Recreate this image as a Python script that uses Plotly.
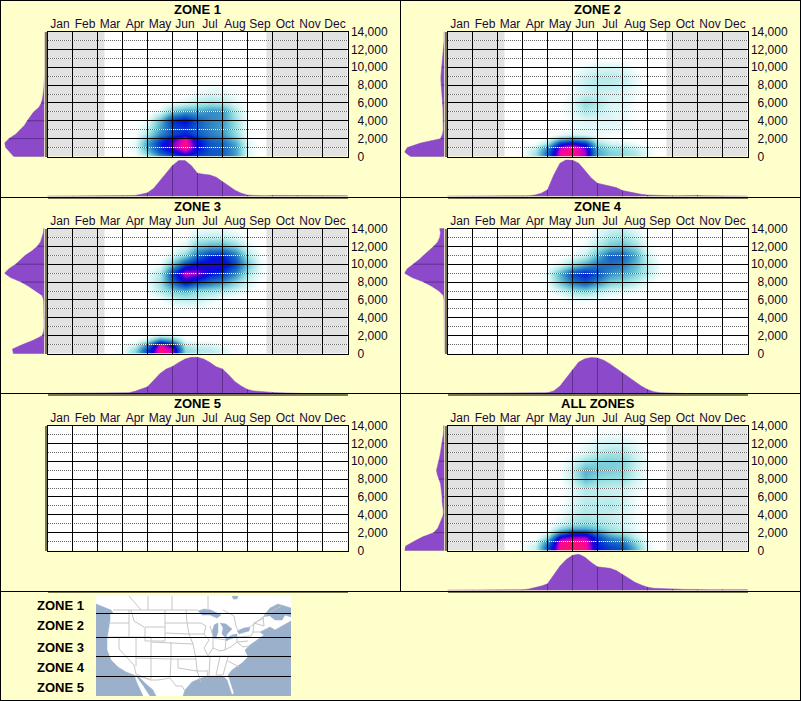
"""Seasonal altitude density panels by zone, with the zone key map."""

import plotly.graph_objects as go

WIDTH = 801
HEIGHT = 701

MONTHS = ['Jan', 'Feb', 'Mar', 'Apr', 'May', 'Jun', 'Jul', 'Aug', 'Sep', 'Oct', 'Nov', 'Dec']
MONTH_CENTERS = [m + 0.5 for m in range(12)]
MONTH_EDGES = list(range(13))
ALT_MAJOR = [0, 2000, 4000, 6000, 8000, 10000, 12000, 14000]
ALT_MINOR = [1000, 3000, 5000, 7000, 9000, 11000, 13000]
ALT_LABELS = ['\u00a0\u00a00', '\u00a0\u00a02,000', '\u00a0\u00a04,000', '\u00a0\u00a06,000',
              '\u00a0\u00a08,000', '10,000', '12,000', '14,000']

# Part of the year that is shaded grey, in months from 1 Jan
SEASON_START = 2.28
SEASON_END = 8.76

HEAT_MONTHS = [3, 3.5, 4, 4.5, 5, 5.5, 6, 6.5, 7, 7.5, 8, 8.5, 9]
HEAT_ALT = [0, 500, 1000, 1500, 2000, 2500, 3000, 4000, 5000, 6000, 7000,
            8000, 9000, 10000, 11000, 12000, 13000, 14000]
BLANK = [0] * 13

HEAT_ZONE1 = [
    [0, 2, 14, 40, 56, 64, 60, 56, 54, 38, 8, 0, 0],
    [0, 4, 26, 55, 68, 85, 66, 56, 54, 38, 8, 0, 0],
    [0, 6, 36, 64, 82, 100, 72, 56, 54, 38, 7, 0, 0],
    [0, 6, 38, 66, 84, 100, 74, 56, 52, 36, 7, 0, 0],
    [0, 4, 30, 58, 76, 96, 68, 52, 46, 28, 5, 0, 0],
    [0, 2, 18, 44, 60, 68, 56, 46, 40, 22, 3, 0, 0],
    [0, 1, 12, 38, 58, 62, 54, 44, 38, 20, 2, 0, 0],
    [0, 0, 4, 32, 65, 72, 56, 44, 40, 20, 3, 0, 0],
    [0, 0, 0, 6, 28, 38, 36, 42, 40, 16, 1, 0, 0],
    [0, 0, 0, 0, 3, 8, 14, 18, 16, 7, 0, 0, 0],
    [0, 0, 0, 0, 0, 1, 6, 10, 8, 3, 0, 0, 0],
    [0, 0, 0, 0, 0, 0, 1, 3, 3, 1, 0, 0, 0],
    BLANK, BLANK, BLANK, BLANK, BLANK, BLANK,
]
HEAT_ZONE2 = [
    [2, 18, 50, 95, 100, 85, 34, 25, 22, 16, 6, 0, 0],
    [2, 18, 52, 96, 100, 88, 36, 25, 22, 16, 6, 0, 0],
    [1, 12, 42, 90, 100, 82, 32, 20, 18, 12, 4, 0, 0],
    [0, 3, 18, 66, 78, 66, 20, 10, 8, 4, 0, 0, 0],
    [0, 0, 4, 28, 38, 30, 8, 3, 2, 0, 0, 0, 0],
    [0, 0, 0, 5, 9, 8, 4, 3, 2, 0, 0, 0, 0],
    [0, 0, 0, 0, 4, 6, 5, 5, 4, 1, 0, 0, 0],
    [0, 0, 0, 0, 4, 8, 8, 8, 6, 2, 0, 0, 0],
    [0, 0, 0, 1, 7, 16, 12, 8, 6, 2, 0, 0, 0],
    [0, 0, 0, 1, 8, 22, 16, 9, 8, 3, 0, 0, 0],
    [0, 0, 0, 0, 5, 12, 12, 10, 9, 4, 0, 0, 0],
    [0, 0, 0, 0, 5, 12, 14, 13, 11, 5, 0, 0, 0],
    [0, 0, 0, 0, 4, 12, 15, 15, 13, 6, 0, 0, 0],
    [0, 0, 0, 0, 1, 5, 8, 9, 7, 2, 0, 0, 0],
    BLANK, BLANK, BLANK, BLANK,
]
HEAT_ZONE3 = [
    [3, 25, 60, 100, 90, 22, 16, 14, 10, 0, 0, 0, 0],
    [3, 22, 60, 100, 90, 22, 16, 14, 9, 0, 0, 0, 0],
    [1, 10, 42, 95, 72, 14, 10, 8, 4, 0, 0, 0, 0],
    [0, 2, 14, 50, 36, 5, 3, 2, 1, 0, 0, 0, 0],
    [0, 0, 1, 10, 8, 0, 0, 0, 0, 0, 0, 0, 0],
    BLANK, BLANK, BLANK,
    [0, 0, 0, 0, 1, 3, 3, 1, 0, 0, 0, 0, 0],
    [0, 0, 0, 2, 10, 14, 12, 6, 2, 0, 0, 0, 0],
    [0, 0, 2, 14, 24, 30, 20, 18, 14, 8, 3, 0, 0],
    [0, 0, 5, 20, 50, 72, 58, 48, 40, 24, 10, 2, 0],
    [0, 0, 3, 16, 62, 92, 88, 70, 64, 44, 18, 4, 0],
    [0, 0, 0, 4, 30, 62, 74, 76, 76, 60, 30, 6, 0],
    [0, 0, 0, 0, 8, 24, 50, 66, 68, 50, 18, 3, 0],
    [0, 0, 0, 0, 2, 8, 28, 35, 36, 25, 8, 0, 0],
    [0, 0, 0, 0, 0, 2, 12, 14, 14, 8, 1, 0, 0],
    [0, 0, 0, 0, 0, 0, 4, 5, 5, 2, 0, 0, 0],
]
HEAT_ZONE4 = [
    BLANK, BLANK, BLANK, BLANK, BLANK, BLANK, BLANK, BLANK, BLANK,
    [0, 0, 0, 0, 3, 5, 3, 0, 0, 0, 0, 0, 0],
    [0, 0, 1, 8, 18, 22, 14, 8, 6, 3, 0, 0, 0],
    [0, 0, 4, 28, 46, 56, 42, 26, 22, 14, 5, 0, 0],
    [0, 0, 6, 34, 60, 68, 58, 42, 36, 26, 14, 2, 0],
    [0, 0, 0, 8, 22, 36, 48, 50, 46, 32, 14, 3, 0],
    [0, 0, 0, 0, 4, 12, 32, 54, 54, 36, 10, 0, 0],
    [0, 0, 0, 0, 1, 5, 16, 28, 32, 22, 4, 0, 0],
    [0, 0, 0, 0, 0, 2, 8, 18, 20, 12, 1, 0, 0],
    [0, 0, 0, 0, 0, 0, 6, 10, 12, 6, 0, 0, 0],
]
HEAT_ALL = [
    [2, 12, 55, 98, 100, 98, 68, 62, 60, 34, 7, 0, 0],
    [2, 12, 55, 98, 100, 98, 68, 60, 56, 30, 6, 0, 0],
    [1, 6, 42, 96, 100, 96, 66, 52, 46, 22, 4, 0, 0],
    [0, 1, 22, 80, 88, 88, 62, 42, 34, 14, 2, 0, 0],
    [0, 0, 6, 45, 65, 65, 45, 25, 18, 8, 1, 0, 0],
    [0, 0, 1, 22, 35, 35, 28, 18, 13, 5, 0, 0, 0],
    [0, 0, 0, 8, 18, 22, 18, 14, 10, 4, 0, 0, 0],
    [0, 0, 0, 3, 12, 16, 14, 12, 10, 4, 0, 0, 0],
    [0, 0, 0, 1, 8, 15, 14, 16, 12, 4, 0, 0, 0],
    [0, 0, 0, 1, 7, 14, 13, 13, 11, 4, 0, 0, 0],
    [0, 0, 0, 1, 7, 16, 14, 12, 12, 6, 1, 0, 0],
    [0, 0, 0, 2, 12, 30, 22, 20, 20, 10, 2, 0, 0],
    [0, 0, 0, 2, 14, 34, 28, 26, 24, 12, 3, 0, 0],
    [0, 0, 0, 1, 8, 20, 24, 26, 24, 12, 3, 0, 0],
    [0, 0, 0, 0, 2, 8, 14, 18, 18, 10, 2, 0, 0],
    [0, 0, 0, 0, 1, 4, 8, 10, 10, 5, 1, 0, 0],
    [0, 0, 0, 0, 0, 1, 3, 4, 4, 2, 0, 0, 0],
    [0, 0, 0, 0, 0, 0, 1, 1, 1, 0, 0, 0, 0],
]

# Marginal curves: quarter-month steps along the bottom, 500 ft steps up the side
MONTH_STEPS = [q / 4 for q in range(49)]
ALT_STEPS = [s * 500 for s in range(29)]

MONTHLY_ZONE1 = [1, 1, 1, 1, 1, 1, 1, 1, 1, 1, 1, 1,
                 1, 2, 3, 6, 10, 22, 42, 64, 84, 97, 97, 84, 63, 60, 58, 52,
                 40, 28, 17, 9, 4, 3, 2, 2, 3, 3, 3, 3, 2, 2, 2, 2, 1, 1, 2, 2, 2]
MONTHLY_ZONE2 = [1, 1, 1, 1, 1, 1, 1, 1, 1, 1, 1, 1,
                 1, 2, 4, 9, 18, 58, 90, 99, 98, 90, 70, 50, 36, 32, 28, 24,
                 16, 12, 9, 6, 4, 3, 2, 2, 2, 2, 3, 3, 3, 2, 2, 1, 1, 1, 1, 1, 1]
MONTHLY_ZONE3 = [0, 0, 0, 0, 0, 0, 0, 0, 0, 0, 0, 0,
                 0, 2, 6, 11, 18, 36, 54, 66, 73, 84, 93, 98, 98, 93, 84, 72,
                 66, 50, 32, 20, 11, 7, 5, 4, 3, 2, 1, 0, 0, 0, 0, 0, 0, 0, 0, 0, 0]
MONTHLY_ZONE4 = [0, 0, 0, 0, 0, 0, 0, 0, 0, 0, 0, 0,
                 0, 0, 0, 0, 2, 7, 20, 42, 64, 85, 94, 97, 96, 90, 80, 68,
                 55, 44, 32, 20, 11, 5, 2, 1, 0, 0, 0, 0, 0, 0, 0, 0, 0, 0, 0, 0, 0]
MONTHLY_ALL = [1, 1, 1, 1, 1, 1, 1, 1, 1, 1, 1, 1,
               2, 4, 7, 12, 18, 42, 66, 84, 95, 98, 90, 76, 64, 62, 60, 54,
               43, 32, 22, 15, 9, 6, 5, 4, 4, 3, 3, 3, 2, 2, 2, 2, 2, 2, 2, 2, 2]

ALTITUDE_ZONE1 = [77, 86, 97, 100, 89, 72, 60, 50, 43, 35, 27, 14, 8, 5, 3, 2, 1,
                  0, 0, 0, 0, 0, 0, 0, 0, 0, 0, 0, 0]
ALTITUDE_ZONE2 = [85, 100, 93, 60, 10, 5, 3, 3, 3, 3, 3, 4, 5, 6, 7, 8, 8, 9, 9, 8,
                  7, 5, 4, 3, 2, 1, 1, 1, 1]
ALTITUDE_ZONE3 = [78, 80, 55, 27, 6, 2, 1, 1, 1, 1, 1, 2, 2, 6, 22, 39, 58, 85, 100,
                  89, 72, 60, 48, 31, 18, 10, 6, 3, 2]
ALTITUDE_ZONE4 = [0, 0, 0, 0, 0, 0, 0, 0, 0, 0, 0, 0, 1, 3, 14, 31, 52, 81, 100, 93,
                  77, 64, 52, 39, 27, 17, 12, 10, 12]
ALTITUDE_ALL = [100, 97, 77, 56, 27, 17, 12, 8, 3, 3, 5, 6, 6, 7, 8, 10, 14, 18, 20,
                17, 14, 12, 10, 8, 6, 4, 3, 2, 2]

PANEL_TITLES = ['ZONE 1', 'ZONE 2', 'ZONE 3', 'ZONE 4', 'ZONE 5', 'ALL ZONES']
PANEL_HEAT = [HEAT_ZONE1, HEAT_ZONE2, HEAT_ZONE3, HEAT_ZONE4, None, HEAT_ALL]
PANEL_MONTHLY = [MONTHLY_ZONE1, MONTHLY_ZONE2, MONTHLY_ZONE3, MONTHLY_ZONE4, None, MONTHLY_ALL]
PANEL_ALTITUDE = [ALTITUDE_ZONE1, ALTITUDE_ZONE2, ALTITUDE_ZONE3, ALTITUDE_ZONE4, None, ALTITUDE_ALL]
PANEL_SHADED = [True, True, True, False, False, True]

# Key map, in map pixels (195 wide, 100 high)
MAP_WATER = [
    [(0, 8), (8, 11), (15, 14), (17, 17), (14, 17), (14, 24), (13, 32), (11, 43), (11, 54), (15, 64),
     (22, 71), (30, 76), (38, 79), (41, 87), (47, 100), (0, 100)],
    [(40, 80), (43, 81), (50, 88), (57, 94), (60, 100), (54, 100), (48, 91)],
    [(87, 100), (89, 94), (96, 86), (105, 82), (113, 80), (122, 80), (127, 80), (131, 84), (134, 92),
     (136, 99), (138, 97), (135, 87), (132, 79), (136, 74), (146, 67), (152, 61), (149, 54), (154, 49),
     (161, 44), (164, 41), (168, 39), (164, 36), (174, 31), (179, 34), (191, 27), (195, 25),
     (195, 100)],
    [(167, 21), (174, 12), (182, 8), (194, 11), (195, 12), (195, 21), (189, 19), (186, 24), (179, 24),
     (174, 20)],
    [(136, 0), (142, 0), (141, 3), (137, 3)],
    [(102, 15), (108, 13), (115, 14), (125, 19), (121, 22), (114, 19), (106, 19)],
    [(118, 29), (122, 27), (122, 36), (120, 42), (117, 41), (116, 35)],
    [(124, 27), (130, 28), (136, 33), (131, 38), (130, 42), (126, 38), (127, 32)],
    [(129, 43), (136, 39), (141, 38), (141, 41), (134, 43), (130, 45)],
    [(141, 35), (148, 32), (154, 31), (153, 35), (146, 37), (143, 38)],
]
MAP_BORDERS = [
    [(17, 14), (102, 14)],
    [(33, 0), (45, 14)],
    [(52, 0), (52, 14)],
    [(76, 0), (76, 14)],
    [(112, 0), (112, 14)],
    [(13, 27), (33, 27)],
    [(33, 14), (33, 41)],
    [(35, 14), (38, 25), (48, 31)],
    [(49, 31), (69, 31), (69, 45), (49, 45), (49, 31)],
    [(69, 14), (69, 31)],
    [(69, 27), (91, 27)],
    [(90, 14), (91, 27), (93, 38), (97, 48), (100, 63), (101, 75)],
    [(69, 37), (93, 38)],
    [(11, 41), (55, 41), (55, 45)],
    [(40, 41), (40, 70)],
    [(23, 41), (23, 53), (38, 69), (40, 78), (55, 84)],
    [(55, 46), (55, 83)],
    [(40, 62), (75, 63)],
    [(55, 46), (97, 48)],
    [(75, 46), (75, 63), (74, 81)],
    [(75, 63), (100, 63)],
    [(82, 63), (82, 72), (101, 75), (105, 86)],
    [(101, 75), (112, 75), (111, 82)],
    [(38, 79), (55, 84), (62, 84), (74, 82), (80, 90), (86, 90), (89, 95)],
    [(93, 38), (108, 38), (113, 44), (108, 52), (112, 60)],
    [(91, 27), (105, 27), (110, 30), (108, 38)],
    [(100, 60), (116, 60), (138, 60)],
    [(114, 30), (117, 40), (117, 52), (112, 60)],
    [(117, 42), (130, 44), (129, 54)],
    [(117, 52), (124, 55), (129, 54), (136, 50), (141, 46), (152, 45)],
    [(141, 41), (141, 46), (147, 51), (153, 50)],
    [(141, 41), (155, 40), (157, 36), (164, 36)],
    [(138, 60), (150, 60)],
    [(124, 61), (120, 79)],
    [(114, 61), (113, 80)],
    [(132, 61), (127, 79), (120, 79)],
    [(132, 65), (143, 71)],
    [(157, 36), (158, 27), (168, 22)],
    [(158, 27), (168, 30), (167, 21)],
    [(127, 14), (138, 20), (140, 30), (142, 34)],
    [(154, 31), (167, 21), (185, 10)],
]
ZONE_BREAKS = [17.5, 41.5, 60.5, 80.5]
KEY_LABELS = ['ZONE 1', 'ZONE 2', 'ZONE 3', 'ZONE 4', 'ZONE 5']
KEY_LABEL_Y = [605, 625, 647, 667, 687]

PAPER = '#ffffcc'
PURPLE = '#8c4acb'
PURPLE_DARK = '#5e2f8c'
BASELINE = '#77774f'
WATER = '#9ab0cb'
SHADE = '#e2e2e2'
FONT = 'Liberation Sans, Arial, sans-serif'

HEAT_SCALE = [
    [0.00, 'rgba(255,255,255,0)'],
    [0.05, 'rgba(225,248,248,0.75)'],
    [0.12, '#c8f0f0'],
    [0.22, '#90dce0'],
    [0.33, '#58b4d0'],
    [0.45, '#2a80c4'],
    [0.58, '#0a50c8'],
    [0.70, '#0010e0'],
    [0.80, '#3000d0'],
    [0.87, '#a000d0'],
    [0.94, '#f000b0'],
    [1.00, '#ff1070'],
]


def px_x(x):
    return x / WIDTH


def px_y(y):
    return 1 - y / HEIGHT


def axis_keys(n):
    suffix = '' if n == 1 else str(n)
    return f'xaxis{suffix}', f'yaxis{suffix}', f'x{suffix}', f'y{suffix}'


fig = go.Figure()
axes = {}
shapes = []
annotations = []
next_axis = 1


def new_subplot(x_dom, y_dom, x_opts, y_opts):
    """Reserve one axis pair; later pairs stack above earlier ones."""
    global next_axis
    xname, yname, xref, yref = axis_keys(next_axis)
    next_axis += 1
    base = dict(showgrid=False, zeroline=False, showticklabels=False, ticks='', automargin=False)
    axes[xname] = {**base, 'domain': [px_x(x_dom[0]), px_x(x_dom[1])], 'anchor': yref, **x_opts}
    axes[yname] = {**base, 'domain': [px_y(y_dom[1]), px_y(y_dom[0])], 'anchor': xref, **y_opts}
    # Plotly only draws a subplot's axes when a trace lives on it
    fig.add_trace(go.Scatter(x=[0], y=[0], xaxis=xref, yaxis=yref, mode='lines', hoverinfo='skip'))
    return xref, yref


PANEL_LEFT = [47.5, 447.5, 47.5, 447.5, 47.5, 447.5]
PANEL_TOP = [31.5, 31.5, 228.5, 228.5, 425.5, 425.5]

for i, title in enumerate(PANEL_TITLES):
    left = PANEL_LEFT[i]
    top = PANEL_TOP[i]
    x_dom = (left, left + 300)
    y_dom = (top, top + 125)

    # Heat layer, carries the month labels
    xref, yref = new_subplot(
        x_dom, y_dom,
        dict(range=[0, 12], side='top', showticklabels=True, tickvals=MONTH_CENTERS, ticktext=MONTHS,
             tickfont=dict(family=FONT, size=12, color='#1a0a3c')),
        dict(range=[0, 14000]),
    )
    shapes.append(dict(type='rect', xref=xref, yref=yref, x0=0, x1=12, y0=0, y1=14000,
                       fillcolor='white', line_width=0, layer='below'))
    if PANEL_SHADED[i]:
        for x0, x1 in [(0, SEASON_START), (SEASON_END, 12)]:
            shapes.append(dict(type='rect', xref=xref, yref=yref, x0=x0, x1=x1, y0=0, y1=14000,
                               fillcolor=SHADE, line_width=0, layer='below'))
    if PANEL_HEAT[i] is not None:
        fig.add_trace(go.Heatmap(x=HEAT_MONTHS, y=HEAT_ALT, z=PANEL_HEAT[i], xaxis=xref, yaxis=yref,
                                 zmin=0, zmax=100, zsmooth='best', colorscale=HEAT_SCALE,
                                 showscale=False, hoverinfo='skip'))

    # White under the dotted lines, above the heat
    new_subplot(
        x_dom, y_dom,
        dict(range=[0, 12]),
        dict(range=[0, 14000], tickvals=ALT_MINOR, showgrid=True, gridcolor='white', gridwidth=1),
    )

    # Grid layer, carries the altitude labels
    new_subplot(
        x_dom, y_dom,
        dict(range=[0, 12], tickvals=MONTH_EDGES, showgrid=True, gridcolor='black', gridwidth=1,
             showline=True, linecolor='black', linewidth=1, mirror=True),
        dict(range=[0, 14000], side='right', tickvals=ALT_MAJOR, ticktext=ALT_LABELS, showticklabels=True,
             showgrid=True, gridcolor='black', gridwidth=1,
             showline=True, linecolor='black', linewidth=1, mirror=True,
             tickfont=dict(family=FONT, size=12, color='#0a0a28'),
             minor=dict(tickvals=ALT_MINOR, showgrid=True, gridcolor='#666666', gridwidth=1,
                        griddash='1px,1px')),
    )

    # Month curve along the bottom
    xref, yref = new_subplot(
        x_dom, (top + 128, top + 165),
        dict(range=[0, 12], showline=True, linecolor=BASELINE, linewidth=2),
        dict(range=[0, 100]),
    )
    monthly = PANEL_MONTHLY[i]
    if monthly is not None:
        fig.add_trace(go.Scatter(x=MONTH_STEPS, y=monthly, xaxis=xref, yaxis=yref, mode='lines',
                                 fill='tozeroy', fillcolor=PURPLE, line=dict(color=PURPLE, width=0.5),
                                 hoverinfo='skip'))
        line_x = []
        line_y = []
        for m in MONTH_EDGES:
            line_x += [m, m, None]
            line_y += [0, monthly[m * 4], None]
        fig.add_trace(go.Scatter(x=line_x, y=line_y, xaxis=xref, yaxis=yref, mode='lines',
                                 line=dict(color=PURPLE_DARK, width=1), hoverinfo='skip'))

    # Altitude curve on the left
    xref, yref = new_subplot(
        (left - 43, left - 3), y_dom,
        dict(range=[100, 0]),
        dict(range=[0, 14000], side='right', showline=True, linecolor=BASELINE, linewidth=2),
    )
    altitude = PANEL_ALTITUDE[i]
    if altitude is not None:
        fig.add_trace(go.Scatter(x=altitude, y=ALT_STEPS, xaxis=xref, yaxis=yref, mode='lines',
                                 fill='tozerox', fillcolor=PURPLE, line=dict(color=PURPLE, width=0.5),
                                 hoverinfo='skip'))
        line_x = []
        line_y = []
        for a in ALT_MAJOR:
            line_x += [0, altitude[a // 500], None]
            line_y += [a, a, None]
        fig.add_trace(go.Scatter(x=line_x, y=line_y, xaxis=xref, yaxis=yref, mode='lines',
                                 line=dict(color=PURPLE_DARK, width=1), hoverinfo='skip'))

    annotations.append(dict(text=f'<b>{title}</b>', xref='paper', yref='paper', showarrow=False,
                            x=px_x(left + 150), y=px_y(top - 22), xanchor='center', yanchor='middle',
                            font=dict(family=FONT, size=13, color='black')))

# Key map
xref, yref = new_subplot((96, 291), (596, 696), dict(range=[0, 195]), dict(range=[100, 0]))
shapes.append(dict(type='rect', xref=xref, yref=yref, x0=0, x1=195, y0=0, y1=100,
                   fillcolor='white', line_width=0, layer='below'))
for poly in MAP_WATER:
    fig.add_trace(go.Scatter(x=[p[0] for p in poly], y=[p[1] for p in poly], xaxis=xref, yaxis=yref,
                             mode='lines', fill='toself', fillcolor=WATER, line=dict(color=WATER, width=0.5),
                             hoverinfo='skip'))
border_x = []
border_y = []
for path in MAP_BORDERS:
    border_x += [p[0] for p in path] + [None]
    border_y += [p[1] for p in path] + [None]
fig.add_trace(go.Scatter(x=border_x, y=border_y, xaxis=xref, yaxis=yref, mode='lines',
                         line=dict(color='#c6c6c6', width=1), hoverinfo='skip'))
break_x = []
break_y = []
for b in ZONE_BREAKS:
    break_x += [0, 195, None]
    break_y += [b, b, None]
fig.add_trace(go.Scatter(x=break_x, y=break_y, xaxis=xref, yaxis=yref, mode='lines',
                         line=dict(color='black', width=1), hoverinfo='skip'))

for label, y in zip(KEY_LABELS, KEY_LABEL_Y):
    annotations.append(dict(text=f'<b>{label}</b>', xref='paper', yref='paper', showarrow=False,
                            x=px_x(34.5), y=px_y(y), xanchor='left', yanchor='middle',
                            font=dict(family=FONT, size=13, color='black')))

# Panel frame
for y in [0.5, 197.5, 393.5, 591.5, 700.5]:
    shapes.append(dict(type='line', xref='paper', yref='paper', x0=0, x1=1, y0=px_y(y), y1=px_y(y),
                       line=dict(color='black', width=1)))
for x in [0.5, 800.5]:
    shapes.append(dict(type='line', xref='paper', yref='paper', x0=px_x(x), x1=px_x(x), y0=0, y1=1,
                       line=dict(color='black', width=1)))
shapes.append(dict(type='line', xref='paper', yref='paper', x0=px_x(400.5), x1=px_x(400.5),
                   y0=px_y(591.5), y1=1, line=dict(color='black', width=1)))

fig.update_layout(
    width=WIDTH,
    height=HEIGHT,
    margin=dict(l=0, r=0, t=0, b=0, autoexpand=False),
    paper_bgcolor=PAPER,
    plot_bgcolor='rgba(0,0,0,0)',
    showlegend=False,
    shapes=shapes,
    annotations=annotations,
    **axes,
)

fig.write_html("out.html", config={'displayModeBar': False},
               post_script="document.body.style.margin = '0';")
